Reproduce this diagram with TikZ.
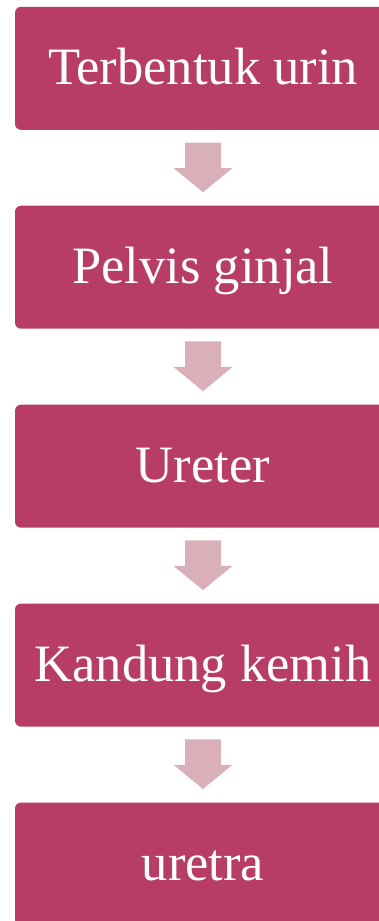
\documentclass[tikz,border=0pt]{standalone}
\usepackage{fontspec}
\setmainfont{Liberation Serif}
\usetikzlibrary{calc}
\definecolor{boxc}{HTML}{B83D66}
\definecolor{arrowc}{HTML}{D9AFB9}
\tikzset{
  stepbox/.style={rectangle, rounded corners=6pt, fill=boxc, text=white,
    minimum width=376pt, minimum height=123pt, inner sep=0pt,
    font=\fontsize{52.5}{60}\selectfont, text height=36pt, text depth=4pt, align=center},
  flowarrow/.style={fill=arrowc}
}
\newcommand{\downarrowshape}[2]{%
  \fill[flowarrow] ($(#1.south)+(-18,12.5)$) -- ($(#1.south)+(18,12.5)$)
    -- ($(#1.south)+(18,38)$) -- ($(#1.south)+(29.5,38)$)
    -- ($(#2.north)+(0,-13.3)$)
    -- ($(#1.south)+(-29.5,38)$) -- ($(#1.south)+(-18,38)$) -- cycle;}
\begin{document}
\begin{tikzpicture}[x=1pt,y=-1pt]
\useasboundingbox (0,0) rectangle (379,921);
\clip (0,0) rectangle (379,921);
\node[stepbox] (b1) at (203,68.3) {Terbentuk urin};
\node[stepbox] (b2) at (203,267.2) {Pelvis ginjal};
\node[stepbox] (b3) at (203,466.2) {Ureter};
\node[stepbox] (b4) at (203,665.1) {Kandung kemih};
\node[stepbox] (b5) at (203,864) {uretra};
\downarrowshape{b1}{b2}
\downarrowshape{b2}{b3}
\downarrowshape{b3}{b4}
\downarrowshape{b4}{b5}
\end{tikzpicture}
\end{document}
